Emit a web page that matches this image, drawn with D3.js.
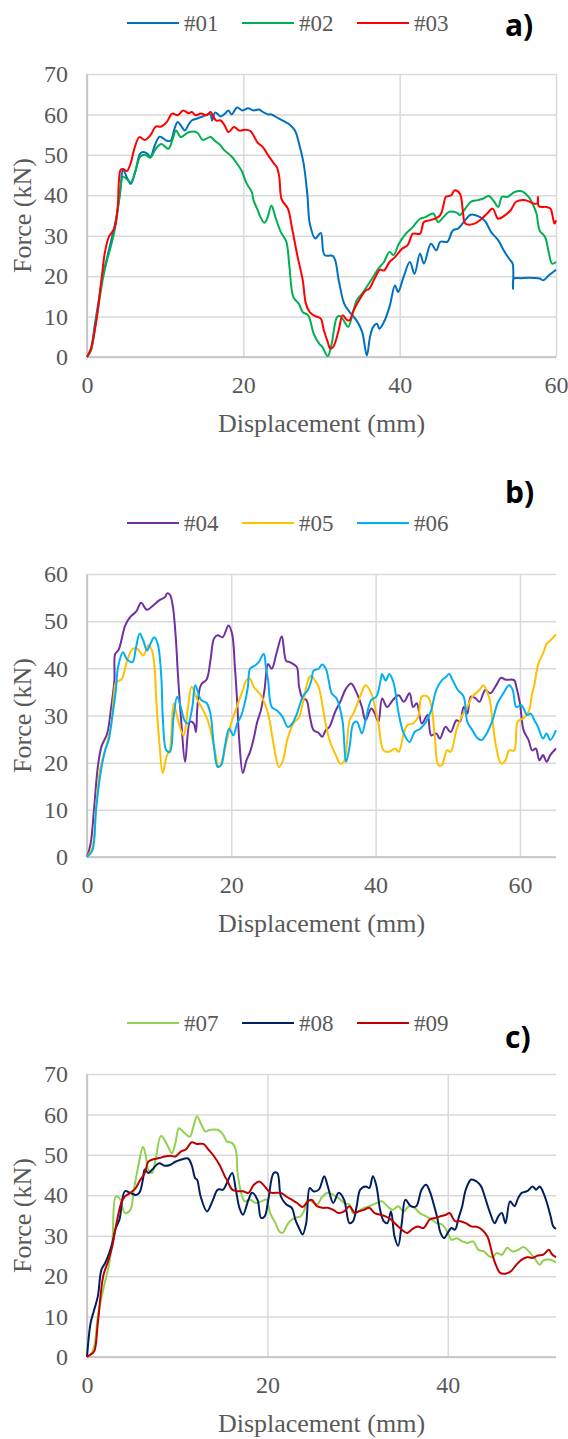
<!DOCTYPE html>
<html><head><meta charset="utf-8">
<script src="https://cdn.jsdelivr.net/npm/d3@7"></script>
<style>html,body{margin:0;padding:0;background:#fff;}svg{display:block;}</style>
</head><body>
<script>
// ---------- DATA ----------
const panelLabels = ["a)", "b)", "c)"];
const xMaxes = [60, 65, 52];
const yMaxes = [70, 60, 70];
const xTicksA = [0, 20, 40, 60];
const xTicksB = [0, 20, 40, 60];
const xTicksC = [0, 20, 40];
const yTicksA = [0, 10, 20, 30, 40, 50, 60, 70];
const yTicksB = [0, 10, 20, 30, 40, 50, 60];
const yTicksC = [0, 10, 20, 30, 40, 50, 60, 70];
const namesA = ["#01", "#02", "#03"];
const namesB = ["#04", "#05", "#06"];
const namesC = ["#07", "#08", "#09"];
const colorsA = ["#0070C0", "#00B050", "#FF0000"];
const colorsB = ["#7030A0", "#FFC000", "#00B0F0"];
const colorsC = ["#92D050", "#002060", "#C00000"];

const s01 = [[0,0],[0.5,2],[1,8],[1.5,14],[2,20],[2.5,24],[3,28],[3.7,34],[4.3,42],[4.6,46.3],[5.2,44],[5.6,42.8],[6.2,46],[6.8,50.3],[7.2,50.7],[7.7,50.3],[8.1,49.5],[8.7,52.5],[9.3,54.5],[9.8,54],[10.2,53.5],[10.7,53.5],[11.2,56.5],[11.6,58.1],[12.1,57],[12.5,56],[13,57.5],[13.4,58.5],[14.1,59],[14.8,59.5],[15.4,60],[15.8,60],[16,58.5],[16.4,60.5],[17.1,59.5],[17.7,60.3],[18.1,61],[18.5,60],[19.2,61.7],[19.9,61],[20.6,61.5],[21.3,61],[22,61.2],[22.6,60.5],[23.2,60],[23.6,60],[24.5,59],[25.5,58],[25.9,57.5],[26.6,56],[27.1,53],[27.7,48],[28.2,40],[28.5,33],[29.2,29.3],[29.9,30.7],[30.4,25.2],[31.5,24.9],[32.2,19],[32.9,13.2],[33.6,11.1],[34.5,9],[35.2,6.2],[35.8,0.4],[36.2,4.9],[36.6,7.4],[37.1,8.2],[37.4,7],[38,8.7],[38.7,12.4],[39.4,17.7],[39.8,16.1],[40.5,19.8],[41.3,23.5],[41.9,20.6],[42.6,25.6],[43.1,23.1],[44,28],[44.7,26.4],[45.2,28.5],[46.1,28.5],[46.8,31.3],[47.5,31.8],[48.2,33.4],[49.1,35.2],[50.3,34.6],[51,33.4],[51.7,30.9],[52.6,28.9],[53.3,26.4],[54,24.3],[54.45,23.1],[54.5,16.9],[54.6,19.4],[55.5,19.5],[56.5,19.6],[57.9,19.4],[58.4,19],[59.1,20.2],[60,21.6]];
const s02 = [[0,0],[0.5,1.5],[1,7],[1.5,13],[2,19],[2.5,23.5],[3,27],[3.5,31],[4.2,40],[4.6,44.6],[5.1,44],[5.6,43.2],[6.2,46],[6.8,49.5],[7.4,50],[8.1,49.3],[8.8,51.5],[9.5,52.7],[10.4,51.5],[10.9,53.5],[11.4,56],[12,54.4],[13,55.6],[14.1,55.5],[14.8,53.7],[15.8,54.4],[16.4,53.4],[17,52.5],[17.6,51.1],[18.5,49.6],[19.2,47.8],[19.8,46],[20.4,43],[21.1,40.7],[21.3,38.8],[21.8,36.5],[22.2,34.6],[22.7,33.2],[23.1,34.5],[23.6,37.5],[24.1,34.6],[24.8,30.9],[25.5,28.5],[25.9,22.3],[26.4,14.8],[27.1,13.2],[27.6,11.1],[28.3,10.3],[29,5.8],[29.7,3.3],[30.1,2.5],[30.8,0.2],[31.3,3.3],[32,9.9],[32.4,10.1],[33,8.5],[33.4,7.4],[34.1,11.5],[34.5,14],[35.2,15.7],[35.9,17.7],[36.6,19.8],[37.3,21.9],[38,23.5],[38.7,26],[39.2,25.2],[39.9,28],[40.8,30.5],[41.7,32.2],[42.6,34.2],[43.3,34.6],[44.3,35.5],[44.9,33.4],[45.6,34.6],[46.3,35.9],[47.3,35.7],[47.7,35.1],[48.4,36.7],[49.1,38.4],[50,38.8],[50.7,39.2],[51.4,39.8],[52.1,38.4],[52.6,37.1],[53.1,39.6],[53.8,39.6],[54.7,40.8],[55.6,41],[56.5,39.6],[57,37.9],[57.5,35.5],[57.9,31.3],[58.6,29.7],[59.1,25.6],[59.5,23.1],[60,23.5]];
const s03 = [[0,0],[0.5,2],[1.2,9],[1.9,20],[2.3,26],[2.8,29.7],[3.5,31.8],[3.9,36.3],[4.1,44],[4.3,46.3],[4.6,46.5],[5.1,46],[5.6,48],[6,51.1],[6.7,54.4],[7.4,53.7],[8.1,54.8],[8.8,57],[9.5,57],[10.2,58.1],[10.9,60.2],[11.6,59.8],[12.3,61],[13,60.3],[13.4,60.6],[13.9,59.8],[14.6,60.2],[15.3,59.8],[15.8,60.6],[16.5,58.5],[17.1,58.5],[17.6,57.3],[18.1,55.6],[18.8,56.9],[19.5,56],[20.2,56.2],[20.9,55.9],[21.3,54.8],[21.8,53.1],[22.5,51.9],[23.2,49.8],[23.9,47.9],[24.3,46.9],[24.6,44.5],[24.9,39],[25.7,36.7],[26.2,32.2],[26.9,25.2],[27.6,19],[28,13.2],[28.5,11.1],[29.2,10.1],[29.9,9.5],[30.3,6.6],[30.8,3.7],[31.1,2.1],[31.5,2.5],[32.2,6.6],[32.7,10.3],[33.3,9.1],[33.6,9.1],[34.1,11.5],[34.8,14],[35.2,15.3],[35.7,16.5],[36.1,16.9],[36.8,19.4],[37.5,21.6],[38,21.4],[38.7,23.5],[39.4,24.7],[40.3,26.8],[41,27.6],[41.7,30.5],[42.6,30.5],[43.1,33.4],[43.8,33.8],[44.5,34.2],[45.2,35.1],[45.6,37.5],[45.9,39.6],[46.6,40],[47,41.2],[47.7,40.4],[48.1,35.9],[48.4,33],[49.6,33],[50.5,34.2],[51.2,35.5],[51.9,36.7],[52.6,34.2],[53.5,35.1],[54.2,36.3],[54.9,38.4],[56.1,38.8],[57.2,37.9],[57.6,38],[57.7,39.6],[57.8,37.3],[58.8,37.1],[59.3,36.7],[59.5,35.5],[59.8,33],[60,33.8]];
const s04 = [[0,0],[0.5,2.8],[1,10.6],[1.5,19.1],[2,23.4],[2.8,26.2],[3.3,31.1],[3.8,37.5],[3.9,43],[4.4,44],[5.3,49.1],[6,50.9],[6.8,52],[7.5,53.9],[8.3,52.4],[9,53.1],[10,54.4],[10.8,55.1],[11.1,55.9],[11.5,55.6],[11.9,53.1],[12.3,46.6],[12.6,38.8],[13.1,28],[13.6,20.2],[14.3,28.7],[14.8,28.3],[15.1,26.5],[15.3,31.8],[15.8,36.5],[16.6,37.7],[17.1,41.6],[17.6,46.3],[18.1,47],[18.8,46.6],[19.6,49.1],[20.1,47.4],[20.5,40.2],[20.8,33.3],[21.1,24.8],[21.6,17.8],[22.1,20.5],[22.6,22.3],[23.1,25.1],[23.6,28.7],[24.1,31.1],[24.6,35.4],[25.1,40.9],[25.6,39.9],[26.3,43.4],[27,46.8],[27.6,41.6],[28.1,41.3],[28.6,40.9],[29.1,40.2],[29.4,36.1],[29.9,33.6],[30.4,33.3],[30.9,29.7],[31.4,26.9],[32.1,26.3],[32.6,25.5],[33.1,26.9],[33.6,27.6],[34.4,30.8],[35.1,32.9],[35.9,35.7],[36.6,36.8],[37.4,34.7],[38.1,31.8],[38.6,29],[39.4,31.5],[39.9,30.4],[40.4,28.7],[40.9,33.6],[41.6,31.8],[42.4,33.3],[43.2,34.3],[43.9,32.9],[44.7,34.7],[45.2,31.8],[45.7,32.6],[46.4,28.3],[47.2,30.1],[47.7,25.8],[48.4,26.2],[48.9,25.1],[49.7,27.6],[50.4,26.5],[51.2,29],[51.7,28.7],[52.2,31.8],[52.7,30.4],[53.2,34],[53.9,33.6],[54.4,32.9],[55.2,35.4],[55.9,34.7],[56.7,36.4],[57.4,38],[58,37.6],[59.2,37.5],[59.5,36.1],[60,32.6],[60.5,26.9],[61.2,24.8],[61.7,22.6],[62.2,23],[62.7,20.5],[63.2,21.6],[63.7,20.2],[64.2,21.6],[65,23]];
const s05 = [[0,0],[0.75,2],[1.25,10.6],[1.8,18.4],[2.5,22.6],[3.3,27.6],[3.8,35.4],[4,37],[4.8,37.7],[5.5,41.3],[6.3,44.1],[7,44.1],[7.8,42.7],[8.5,44.9],[9,43.8],[9.4,39.5],[9.6,33.3],[10,24.8],[10.5,17.8],[11,21.2],[11.5,23],[12,32.6],[12.5,29.7],[13,26.9],[13.4,25.8],[14,31.8],[14.5,36.1],[15.3,33.3],[16.1,31.1],[16.8,28.7],[17.6,23.4],[18.3,19.1],[18.8,20.9],[19.6,26.2],[20.1,29],[20.6,31.1],[21.1,33.3],[21.6,35.4],[22.1,37.5],[22.6,37.8],[23.1,36.1],[24.1,34.3],[25.1,30.4],[25.8,24.4],[26.6,19.1],[27.1,20.2],[27.8,25.1],[28.6,28.3],[29.4,29.7],[29.9,32.6],[30.4,36.1],[30.8,38.1],[31.1,38.4],[31.6,37.4],[32.1,36.1],[32.9,29.7],[33.6,24.8],[34.4,21.9],[35.1,19.8],[35.6,20.2],[36.4,29],[36.9,30.4],[37.4,32.2],[38.1,35],[38.6,36.4],[39.4,34.7],[39.9,31.8],[40.4,28.3],[41.1,22.6],[41.9,22.3],[42.7,23],[43.2,22.3],[43.9,26.2],[44.4,28],[45.2,28.3],[45.9,29.7],[46.4,34],[47.2,34],[47.7,32.2],[48.2,25.5],[48.7,19.5],[49.2,19.5],[49.9,22.6],[50.4,22.3],[51.2,26.9],[51.9,29.7],[52.7,31.8],[53.4,34],[54.4,35.4],[54.9,36.4],[55.7,34],[56.2,29],[56.7,23.4],[57.4,19.8],[58,20.5],[58.5,22.6],[59.2,22.6],[59.7,28.7],[60.5,29.4],[61.2,30.8],[61.7,34.7],[62,36.5],[62.4,40],[62.7,41.6],[63.2,43.1],[63.7,45.2],[64.2,45.9],[65,47.2]];
const s06 = [[0,0],[0.75,1.4],[1.25,9.9],[1.8,17],[2.5,22.6],[3,24.8],[3.5,29.7],[4,35.4],[4.3,40.2],[5,43.4],[5.5,42],[6.3,41.3],[6.8,44.5],[7.3,47.4],[7.8,45.9],[8.3,43.8],[8.8,45.2],[9.3,46.6],[9.8,45.2],[10.3,38.1],[10.5,29.7],[11,22.6],[11.5,22.3],[12,29.7],[12.5,34],[13,31.8],[13.5,29],[14,28.3],[14.6,31.8],[15,36.4],[15.8,33.3],[16.6,32.6],[17.1,30.4],[17.6,23.4],[18.1,19.1],[18.6,19.5],[19.1,23.4],[19.7,27.2],[20.3,25.8],[20.8,28.3],[21.3,29.7],[21.8,32.2],[22.3,36.1],[22.6,39.9],[23.3,40.6],[23.8,41.3],[24.5,43.1],[24.8,40.2],[25.1,37.5],[25.6,31.8],[26.3,31.1],[27.1,29.7],[27.8,27.6],[28.3,28],[29.1,30.4],[29.9,34],[30.6,35.4],[31.1,37.5],[31.4,39.5],[32.1,39.9],[32.6,40.8],[33.1,39.9],[33.5,37.4],[33.9,34.7],[34.6,33.6],[35.4,29],[35.9,20.2],[36.4,23.4],[36.9,28.3],[37.4,28.7],[38.1,26.2],[38.6,29],[39.4,33.3],[40.1,34],[40.7,37.5],[40.9,38.8],[41.4,37.4],[41.9,38.8],[42.4,37.4],[42.7,35.4],[43.2,30.4],[43.9,26.2],[44.7,24.4],[45.4,26.5],[46.2,27.2],[47,28.7],[47.7,31.1],[48.4,35.4],[49.2,37.5],[49.7,38.1],[50.2,38.8],[50.7,37.4],[51.4,35.4],[52.2,34],[52.7,28.7],[53.4,26.9],[54.2,25.1],[54.7,24.8],[55.4,26.2],[56.2,29],[56.9,32.6],[57.7,34.7],[58.5,36.4],[59,35.4],[59.5,31.8],[60.2,32.2],[61,30.1],[61.5,30.4],[62,29],[62.5,27.6],[63.2,25.1],[63.7,26.2],[64.2,24.8],[65,26.9]];
const s07 = [[0,0],[0.4,0.6],[0.8,2.6],[1.2,10],[1.8,16.7],[2.4,22.4],[2.8,28.2],[3.2,39.7],[3.6,39.3],[4.2,35.6],[4.8,36.4],[5.2,41.4],[5.6,46.3],[5.8,48.5],[6.2,52],[6.5,50],[6.8,46.3],[7.2,45.5],[7.6,48.8],[8.2,54.7],[8.8,52.9],[9.4,50.4],[9.8,52.9],[10.2,56.6],[10.8,55.4],[11.4,54.5],[11.8,57],[12.2,59.5],[12.7,57.4],[13.1,55.8],[13.7,56.2],[14.5,56.2],[15.1,55],[15.5,53.3],[16.1,52.9],[16.5,51.2],[16.7,45.5],[17.1,40.6],[17.5,38.5],[18.1,38.9],[18.7,38.1],[19.3,38.5],[19.9,38.9],[20.3,35.6],[20.9,33.1],[21.3,31.1],[21.7,30.7],[22.1,32.3],[22.5,33.6],[23.1,34.4],[23.7,34.8],[24.1,36.4],[24.5,38.9],[24.9,38.5],[25.5,37.7],[26.1,39.7],[26.7,40.6],[27.3,40.1],[27.9,39.3],[28.5,38.1],[29.1,37.7],[29.5,35.6],[30.1,36],[30.7,36.9],[31.3,37.3],[32.1,38.1],[32.7,38.5],[33.3,37.3],[33.9,36.4],[34.5,37.3],[35.1,36],[35.7,37.3],[36.3,36.9],[36.9,35.6],[37.6,34.8],[38.2,34],[38.8,33.1],[39.4,32.7],[40,30.7],[40.4,29],[41,29.4],[41.6,28.6],[42.2,28.2],[42.8,28.6],[43.4,26.5],[44,26.1],[44.6,24.9],[45,24.7],[45.4,25.7],[46,25.3],[46.6,27],[47.2,26.1],[47.8,26.5],[48.4,27.2],[49,26.1],[49.6,24.5],[50.2,22.8],[50.6,23.9],[51.2,24.1],[52,23.4]];
const s08 = [[0,0],[0.4,8.4],[0.8,11.7],[1.2,15],[1.6,21.6],[2,23.2],[2.4,25.3],[2.8,28.2],[3.2,31.9],[3.6,34],[4.2,41],[4.8,40.6],[5.4,40.1],[5.8,40.6],[6.2,43.9],[6.4,46.4],[6.8,45.5],[7.2,46.3],[8,47.9],[8.6,47.3],[9.2,47.5],[9.8,48.3],[10.4,48.8],[11.2,49.1],[11.6,47.5],[12,44.2],[12.2,43.9],[12.6,39.7],[13.3,36],[13.9,38.5],[14.5,41.4],[15.1,41.4],[15.5,43],[16.1,45.5],[16.5,41.4],[16.9,36.9],[17.3,35.2],[17.9,38.9],[18.3,40.6],[18.9,38.9],[19.3,34.4],[19.7,34.8],[20.1,38.9],[20.7,45.5],[21.1,45.5],[21.5,39.7],[22.1,37.7],[22.7,36.9],[23.1,34],[23.5,31.9],[23.9,30.3],[24.3,33.1],[24.7,41.8],[25.1,41],[25.7,41.4],[26.3,44.7],[26.7,42.2],[27.3,38.1],[27.9,40.6],[28.5,38.9],[29.1,33.1],[29.5,33.6],[29.9,37.3],[30.3,41.4],[30.9,42.2],[31.3,41.8],[31.7,44.7],[32.1,42.2],[32.5,36.4],[32.9,33.6],[33.3,33.1],[33.7,36],[34.1,29.8],[34.5,27.5],[34.9,33.1],[35.3,38.9],[35.9,37.3],[36.5,37.3],[37.1,41.4],[37.6,42.6],[38,41],[38.4,38.1],[38.8,34.8],[39.2,30.7],[39.6,29.4],[40,30.7],[40.4,31.9],[40.8,31.5],[41.2,34.4],[41.6,37.3],[42,41.4],[42.6,43.9],[43.2,43.4],[43.7,42.2],[44.1,39.7],[44.7,35.6],[45.2,33.1],[45.6,34.8],[46,35.6],[46.4,33.1],[46.9,38.5],[47.4,37.3],[47.8,39.3],[48.2,40.6],[48.8,41],[49.4,42.2],[49.8,41.4],[50.2,42.2],[50.6,40.6],[51,38.1],[51.4,34.8],[51.7,32.3],[52,31.7]];
const s09 = [[0,0],[0.4,0.6],[0.8,1.4],[1.2,8.4],[1.8,20],[2.4,24.1],[2.8,27.4],[3.2,32.3],[3.8,38.1],[4.2,39.7],[4.8,40.6],[5.4,41.8],[5.8,43.4],[6.4,45.5],[6.8,48.3],[7.2,48.8],[8,49.2],[8.6,49.6],[9.2,49.8],[9.8,49.6],[10.4,50.8],[11,51.4],[11.6,53.1],[12.2,52.7],[12.9,52.7],[13.5,51.2],[14.1,49.6],[14.7,47.5],[15.3,44.6],[15.5,43.9],[16.1,41.4],[16.7,41],[17.3,41],[17.9,40.6],[18.5,42.6],[19.1,43.4],[19.7,42.2],[20.3,40.7],[20.9,40.6],[21.5,40.6],[22.1,39.7],[22.7,38.9],[23.3,38.1],[23.9,37.1],[24.5,38.5],[24.9,38.9],[25.5,37.3],[26.1,36.9],[26.7,36.9],[27.3,36.4],[27.9,35.6],[28.5,36],[29.1,37.3],[29.7,35.6],[30.1,36],[30.7,36.4],[31.3,36.9],[31.9,35.6],[32.5,35.2],[33.1,34.8],[33.7,34],[34.3,32.7],[34.9,31.5],[35.5,30.7],[36.1,31.7],[36.7,32.3],[37.3,31.9],[38,34],[38.6,34.4],[39.2,34.8],[39.8,35.2],[40.2,35.6],[40.8,33.6],[41.4,33.6],[42,33.1],[42.6,32.3],[43.2,32.2],[43.8,31.5],[44.4,29.8],[45,24.9],[45.4,22.4],[45.8,20.8],[46.4,20.6],[47,21.2],[47.6,22.8],[48.2,24.1],[48.8,24.7],[49.4,24.5],[50,25.1],[50.6,25.3],[51.2,26.5],[51.6,25.3],[52,24.7]];

// ---------- LAYOUT ----------
const W = 568, H = 1439;
const plotLeft = 87, plotRight = 556, plotH = 283;
const panelTops = [74, 574, 1074];
const legendYs = [23, 523, 1023];
const labelYs = [36, 503, 1048];
const textColor = "#595959";
const serif = "'Liberation Serif','Times New Roman',serif";

const panels = [
  {xTicks: xTicksA, yTicks: yTicksA, names: namesA, colors: colorsA, series: [s01, s02, s03]},
  {xTicks: xTicksB, yTicks: yTicksB, names: namesB, colors: colorsB, series: [s04, s05, s06]},
  {xTicks: xTicksC, yTicks: yTicksC, names: namesC, colors: colorsC, series: [s07, s08, s09]}
];

const svg = d3.select("body").append("svg").attr("width", W).attr("height", H);

panels.forEach((p, i) => {
  const top = panelTops[i];
  const x = d3.scaleLinear().domain([0, xMaxes[i]]).range([plotLeft, plotRight]);
  const y = d3.scaleLinear().domain([0, yMaxes[i]]).range([top + plotH, top]);
  const g = svg.append("g");

  // horizontal gridlines + y labels
  const ya = d3.axisLeft(y).tickValues(p.yTicks).tickSizeInner(-(plotRight - plotLeft)).tickSizeOuter(0).tickPadding(19);
  const gy = g.append("g").attr("transform", `translate(${plotLeft},0)`).call(ya);
  gy.select(".domain").remove();
  gy.selectAll(".tick line").attr("stroke", "#d9d9d9").attr("stroke-width", 1.5);
  gy.selectAll(".tick text").attr("font-family", serif).attr("font-size", 24).attr("fill", textColor);

  // vertical gridlines + x labels
  const xa = d3.axisBottom(x).tickValues(p.xTicks).tickSizeInner(-plotH).tickSizeOuter(0).tickPadding(19);
  const gx = g.append("g").attr("transform", `translate(0,${top + plotH})`).call(xa);
  gx.select(".domain").remove();
  gx.selectAll(".tick line").attr("stroke", "#d9d9d9").attr("stroke-width", 1.5);
  gx.selectAll(".tick text").attr("font-family", serif).attr("font-size", 24).attr("fill", textColor);

  // axis lines
  g.append("line").attr("x1", plotLeft).attr("x2", plotRight).attr("y1", y(0)).attr("y2", y(0))
    .attr("stroke", "#bfbfbf").attr("stroke-width", 1.5);
  g.append("line").attr("x1", plotLeft).attr("x2", plotLeft).attr("y1", y(0)).attr("y2", y(yMaxes[i]))
    .attr("stroke", "#bfbfbf").attr("stroke-width", 1.5);

  // series
  const line = d3.line().x(d => x(d[0])).y(d => y(d[1])).curve(d3.curveCatmullRom.alpha(0.5));
  p.series.forEach((s, k) => {
    g.append("path").datum(s).attr("d", line).attr("fill", "none")
      .attr("stroke", p.colors[k]).attr("stroke-width", 2).attr("stroke-linejoin", "round");
  });

  // axis titles
  g.append("text").attr("x", (plotLeft + plotRight) / 2).attr("y", top + plotH + 75)
    .attr("text-anchor", "middle").attr("font-family", serif).attr("font-size", 26).attr("fill", textColor)
    .text("Displacement (mm)");
  g.append("text").attr("transform", `translate(31,${top + plotH / 2}) rotate(-90)`)
    .attr("text-anchor", "middle").attr("font-family", serif).attr("font-size", 26).attr("fill", textColor)
    .text("Force (kN)");

  // legend
  const legX = [127, 242, 357];
  p.names.forEach((nm, k) => {
    g.append("line").attr("x1", legX[k]).attr("x2", legX[k] + 52).attr("y1", legendYs[i]).attr("y2", legendYs[i])
      .attr("stroke", p.colors[k]).attr("stroke-width", 2);
    g.append("text").attr("x", legX[k] + 57).attr("y", legendYs[i]).attr("dy", "0.35em")
      .attr("font-family", serif).attr("font-size", 23).attr("fill", textColor).text(nm);
  });

  // panel label
  g.append("text").attr("x", 505).attr("y", labelYs[i])
    .attr("font-family", "'Open Sans','DejaVu Sans',sans-serif").attr("font-weight", "bold")
    .attr("font-size", 30).attr("fill", "#000").text(panelLabels[i]);
});
</script>
</body></html>
